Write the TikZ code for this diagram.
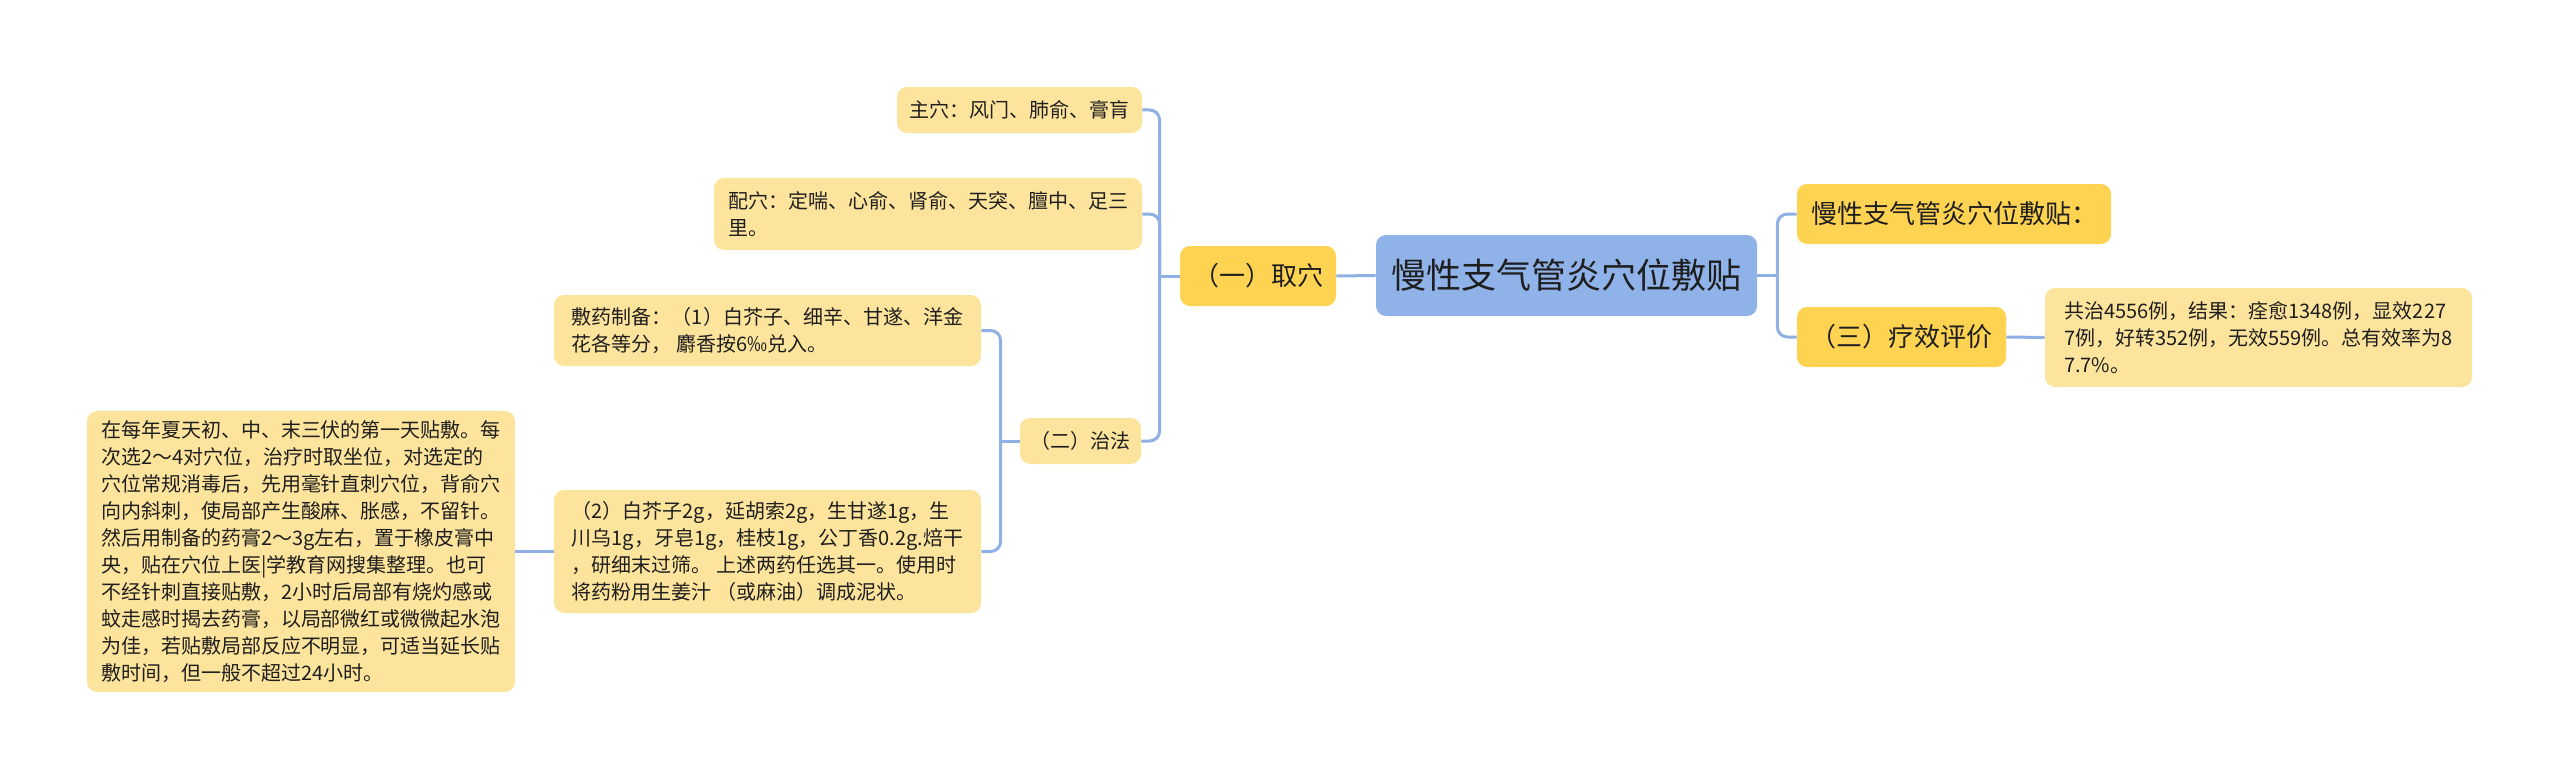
\documentclass[tikz,border=0pt]{standalone}
\usepackage{fontspec}
\setmainfont{Noto Sans CJK SC}
\usepackage{tikz}
\usetikzlibrary{
  positioning,
  calc
}
\definecolor{mapblue}{RGB}{143,178,232}
\definecolor{mapline}{RGB}{143,176,228}
\definecolor{mapgold}{RGB}{254,211,82}
\definecolor{mappale}{RGB}{253,228,157}
\definecolor{maptext}{RGB}{30,30,30}

\begin{document}
\begin{tikzpicture}[
  x=0.5pt, y=-0.5pt,
  rootnode/.style={rectangle, rounded corners=5pt, fill=mapblue, text=maptext, inner sep=0pt, font=\fontsize{17.5}{21}\selectfont},
  topicnode/.style={rectangle, rounded corners=5pt, fill=mapgold, text=maptext, inner sep=0pt, font=\fontsize{13}{16}\selectfont},
  leafnode/.style={rectangle, rounded corners=5pt, fill=mappale, text=maptext, inner sep=0pt, align=left, font=\fontsize{10}{13.5}\selectfont},
  link/.style={draw=mapline, line width=1.5pt, rounded corners=5pt}
]
  \useasboundingbox (0,0) rectangle (2560,781);

  % centre and left branch
  \node[rootnode, minimum width=190.5pt, minimum height=40.5pt] (root) at (1566.5,275.5) {慢性支气管炎穴位敷贴};
  \node[topicnode, minimum width=78pt, minimum height=30pt] (quxue) at (1258,276) {（一）取穴};
  \node[leafnode, minimum width=122.5pt, minimum height=23pt] (zhuxue) at (1019.5,110) {主穴：风门、肺俞、膏肓};
  \node[leafnode, minimum width=214pt, minimum height=36pt] (peixue) at (928,214) {配穴：定喘、心俞、肾俞、天突、膻中、足三\\里。};
  \node[leafnode, minimum width=60.5pt, minimum height=23pt] (zhifa) at (1080.5,441) {（二）治法};
  \node[leafnode, minimum width=213.5pt, minimum height=35.5pt] (fuyao) at (767.5,330.5) {敷药制备：（1）白芥子、细辛、甘遂、洋金\\花各等分， 麝香按6‰兑入。};
  \node[leafnode, minimum width=213.5pt, minimum height=61.5pt] (yaofang) at (767.5,551.5) {（2）白芥子2g，延胡索2g，生甘遂1g，生\\川乌1g，牙皂1g，桂枝1g，公丁香0.2g.焙干\\，研细末过筛。 上述两药任选其一。使用时\\将药粉用生姜汁 （或麻油）调成泥状。};
  \node[leafnode, minimum width=214pt, minimum height=140.5pt] (tiefu) at (301,551.5) {在每年夏天初、中、末三伏的第一天贴敷。每\\次选2～4对穴位，治疗时取坐位，对选定的\\穴位常规消毒后，先用毫针直刺穴位，背俞穴\\向内斜刺，使局部产生酸麻、胀感，不留针。\\然后用制备的药膏2～3g左右，置于橡皮膏中\\央，贴在穴位上医|学教育网搜集整理。也可\\不经针刺直接贴敷，2小时后局部有烧灼感或\\蚊走感时揭去药膏，以局部微红或微微起水泡\\为佳，若贴敷局部反应不明显，可适当延长贴\\敷时间，但一般不超过24小时。};

  % right branch
  \node[topicnode, minimum width=157pt, minimum height=30pt] (biaoti) at (1954,214) {慢性支气管炎穴位敷贴：};
  \node[topicnode, minimum width=104.5pt, minimum height=30pt] (pingjia) at (1901.5,337) {（三）疗效评价};
  \node[leafnode, minimum width=213.5pt, minimum height=49.5pt] (jieguo) at (2258.5,337.5) {共治4556例，结果：痊愈1348例，显效227\\7例，好转352例，无效559例。总有效率为8\\7.7\%。};

  % connectors
  \coordinate (lspine) at ($(quxue.west)+(-20,0)$);
  \coordinate (zspine) at ($(zhifa.west)+(-19,0)$);
  \coordinate (rspine) at ($(root.east)+(20,0)$);
  \draw[link] (root.west) -- (quxue.east);
  \draw[link] (quxue.west) -- (lspine);
  \draw[link] (zhuxue.east) -- (zhuxue.east -| lspine) -- (lspine);
  \draw[link] (peixue.east) -- (peixue.east -| lspine) -- (lspine);
  \draw[link] (zhifa.east) -- (zhifa.east -| lspine) -- (lspine);
  \draw[link] (zhifa.west) -- (zspine);
  \draw[link] (fuyao.east) -- (fuyao.east -| zspine) -- (zspine);
  \draw[link] (yaofang.east) -- (yaofang.east -| zspine) -- (zspine);
  \draw[link] (tiefu.east) -- (yaofang.west);
  \draw[link] (root.east) -- (rspine);
  \draw[link] (rspine) -- (rspine |- biaoti.west) -- (biaoti.west);
  \draw[link] (rspine) -- (rspine |- pingjia.west) -- (pingjia.west);
  \draw[link] (pingjia.east) -- (jieguo.west);
\end{tikzpicture}
\end{document}
